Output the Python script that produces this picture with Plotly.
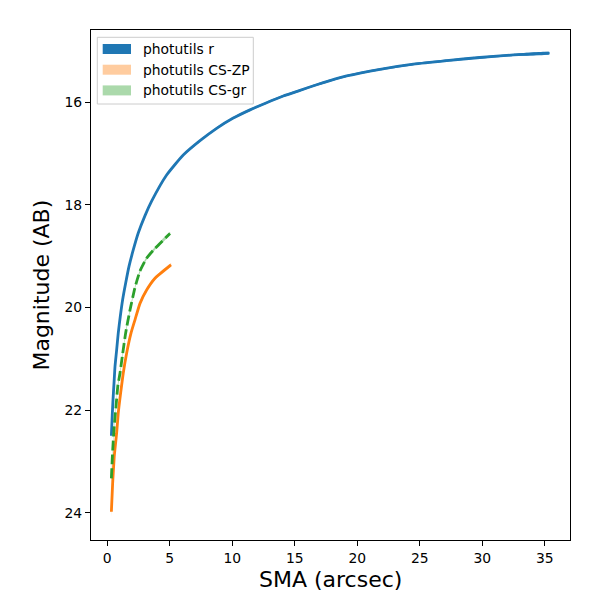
import plotly.graph_objects as go

# ---- data ----
r_sma = [0.33, 0.40, 0.46, 0.54, 0.62, 0.75, 0.88, 1.04, 1.23, 1.47, 1.74, 2.08, 2.48, 3.02,
         3.55, 4.75, 6.08, 7.42, 8.75, 10.08, 11.42, 12.75, 14.08, 15.42, 16.75, 17.82,
         19.15, 21.82, 24.48, 27.15, 29.80, 32.50, 35.36]
r_mag = [22.50, 22.10, 21.80, 21.48, 21.15, 20.83, 20.50, 20.18, 19.85, 19.53, 19.20, 18.88,
         18.55, 18.21, 17.93, 17.42, 17.03, 16.75, 16.51, 16.31, 16.15, 16.01, 15.88, 15.77,
         15.66, 15.58, 15.49, 15.36, 15.26, 15.19, 15.13, 15.08, 15.045]
r_err = [0.06, 0.05, 0.05, 0.04, 0.04, 0.04, 0.03, 0.03, 0.03, 0.03, 0.03, 0.03, 0.02, 0.02,
         0.02, 0.02, 0.02, 0.02, 0.02, 0.02, 0.02, 0.02, 0.02, 0.02, 0.02, 0.02,
         0.02, 0.02, 0.02, 0.02, 0.02, 0.02, 0.02]

zp_sma = [0.33, 0.43, 0.56, 0.65, 0.75, 0.88, 1.07, 1.28, 1.55, 1.90, 2.22, 2.62, 3.15, 3.82, 5.10]
zp_mag = [23.98, 23.43, 22.90, 22.68, 22.45, 22.06, 21.67, 21.28, 20.89, 20.50, 20.24, 19.92,
          19.66, 19.43, 19.17]
zp_err = [0.10, 0.08, 0.07, 0.06, 0.06, 0.05, 0.05, 0.04, 0.04, 0.04, 0.03, 0.03, 0.03, 0.03, 0.03]

gr_sma = [0.33, 0.40, 0.48, 0.58, 0.70, 0.85, 1.02, 1.20, 1.47, 1.82, 2.22, 2.62, 3.15, 3.82, 5.02]
gr_mag = [23.33, 22.95, 22.60, 22.25, 21.93, 21.52, 21.28, 20.96, 20.50, 20.05, 19.61, 19.29,
          19.04, 18.85, 18.56]
gr_err = [0.08, 0.07, 0.07, 0.06, 0.05, 0.05, 0.05, 0.04, 0.04, 0.04, 0.03, 0.03, 0.03, 0.03, 0.03]

legend_labels = ["photutils r", "photutils CS-ZP", "photutils CS-gr"]
x_ticks = [0, 5, 10, 15, 20, 25, 30, 35]
y_ticks = [16, 18, 20, 22, 24]

BLUE = "#1f77b4"
ORANGE = "#ff7f0e"
GREEN = "#2ca02c"
FONT = "DejaVu Sans"

fig = go.Figure()


def band(x, y, e, fillcolor):
    up = [a - b for a, b in zip(y, e)]
    lo = [a + b for a, b in zip(y, e)]
    fig.add_trace(go.Scatter(x=list(x) + list(x[::-1]), y=up + lo[::-1], fill="toself",
                             fillcolor=fillcolor, line=dict(width=0, shape="spline", smoothing=0.5),
                             mode="lines", hoverinfo="skip", showlegend=False))


band(r_sma, r_mag, r_err, BLUE)
fig.add_trace(go.Scatter(x=r_sma, y=r_mag, mode="lines",
                         line=dict(color=BLUE, width=2.8, shape="spline", smoothing=0.5),
                         showlegend=False))
band(zp_sma, zp_mag, zp_err, "rgba(255,127,14,0.4)")
fig.add_trace(go.Scatter(x=zp_sma, y=zp_mag, mode="lines",
                         line=dict(color=ORANGE, width=2.8, shape="spline", smoothing=0.5),
                         showlegend=False))
band(gr_sma, gr_mag, gr_err, "rgba(44,160,44,0.4)")
fig.add_trace(go.Scatter(x=gr_sma, y=gr_mag, mode="lines",
                         line=dict(color=GREEN, width=2.8, dash="10px,4px", shape="spline",
                                   smoothing=0.5),
                         showlegend=False))

W = H = 600.0


def px(x):
    return x / W


def py(y):
    return 1 - y / H


shapes = [
    dict(type="rect", xref="paper", yref="paper", x0=px(97.3), x1=px(253.3),
         y0=py(104), y1=py(37.3), line=dict(color="#cccccc", width=1),
         fillcolor="rgba(255,255,255,0.8)", layer="above"),
]
sw_colors = [BLUE, "rgba(255,127,14,0.4)", "rgba(44,160,44,0.4)"]
sw_centers = [49, 69.7, 90.4]
annotations = []
for lab, c, yc in zip(legend_labels, sw_colors, sw_centers):
    shapes.append(dict(type="rect", xref="paper", yref="paper", x0=px(102.7), x1=px(131),
                       y0=py(yc + 5), y1=py(yc - 5), line=dict(width=0), fillcolor=c,
                       layer="above"))
    annotations.append(dict(text=lab, xref="paper", yref="paper", x=px(140.5), y=py(yc),
                            xanchor="left", yanchor="middle", showarrow=False,
                            font=dict(family=FONT, size=13.9, color="black")))

fig.update_layout(
    width=600, height=600,
    margin=dict(l=0, r=0, t=0, b=0),
    paper_bgcolor="white", plot_bgcolor="white",
    font=dict(family=FONT, color="black"),
    shapes=shapes, annotations=annotations,
    xaxis=dict(domain=[px(91), px(570.3)], range=[-1.30, 37.04], tickvals=x_ticks,
               ticks="outside", ticklen=5, tickwidth=1.1, tickcolor="black",
               showline=True, linecolor="black", linewidth=1.1, mirror=True,
               showgrid=False, zeroline=False, automargin=False,
               tickfont=dict(family=FONT, size=13.9, color="black"),
               title=dict(text="SMA (arcsec)", font=dict(family=FONT, size=22, color="black"),
                          standoff=6)),
    yaxis=dict(domain=[py(540), py(30.3)], range=[24.53, 14.60], tickvals=y_ticks,
               ticks="outside", ticklen=5, tickwidth=1.1, tickcolor="black",
               showline=True, linecolor="black", linewidth=1.1, mirror=True,
               showgrid=False, zeroline=False, automargin=False,
               tickfont=dict(family=FONT, size=13.9, color="black"),
               title=dict(text="Magnitude (AB)", font=dict(family=FONT, size=22, color="black"),
                          standoff=8)),
)

fig.write_html("out.html", config={"displayModeBar": False},
               post_script="document.body.style.margin='0px';document.body.style.padding='0px';")
